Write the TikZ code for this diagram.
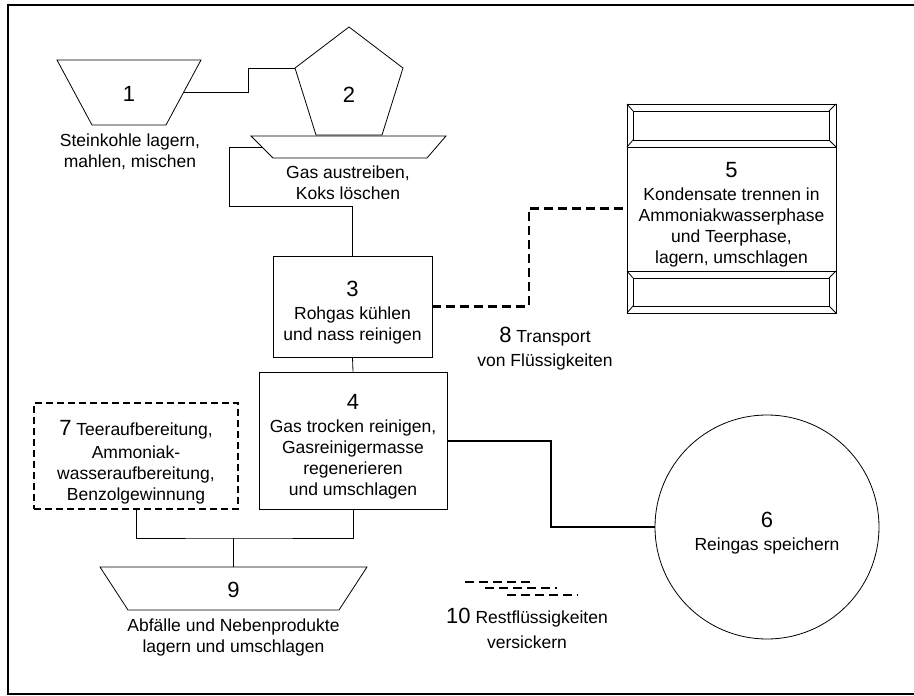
\documentclass[tikz,border=0pt]{standalone}
\usepackage{fontspec}
\setmainfont{Liberation Sans}
\usepackage{tikz}

\newcommand{\nr}[1]{{\fontsize{22}{24}\selectfont #1}}
\newcommand{\topnr}[1]{\rule{0pt}{27pt}\nr{#1}}

\begin{document}
\begin{tikzpicture}[x=1pt, y=-1pt,
    every node/.style={font=\fontsize{17.5}{21}\selectfont, align=center, inner sep=0pt},
    procbox/.style={draw, rectangle, line width=0.8pt},
    vessel/.style={draw, line width=0.8pt},
    pipe/.style={line width=0.8pt},
    gasline/.style={line width=2pt},
    liquid/.style={line width=2.6pt, dash pattern=on 9pt off 5pt}]
                \useasboundingbox (0,0) rectangle (914,696);
                % Frame
                \draw[line width=2.4pt] (930,5) -- (8,5) -- (8,694) -- (930,694);

                % Coal store
                \draw[vessel] (57,60) -- (201,60) -- (166,125) -- (92,125) -- cycle;
                \coordinate (t1r) at (183.5,92.5);
                \node (n1) at (129,94) {\nr{1}};
                \node (t1) at (130,152) {Steinkohle lagern,\\mahlen, mischen};

                % Coke oven and quenching
                \draw[vessel] (349,27) -- (403,68) -- (382,135) -- (316,135) -- (295,68) -- cycle;
                \draw[vessel] (251,136) -- (446,136) -- (427,158) -- (273,158) -- cycle;
                \coordinate (p2l) at (295,68);
                \coordinate (p2s) at (262,147);
                \node (n2) at (349,95) {\nr{2}};
                \node (t2) at (348,183) {Gas austreiben,\\Koks löschen};

                % Gas treatment
                \node[procbox, minimum width=159pt, minimum height=101pt] (b3) at (352.5,306.5)
                    {\topnr{3}\\[2pt]Rohgas kühlen\\und nass reinigen};
                \node[procbox, minimum width=188pt, minimum height=137pt] (b4) at (353,440.5)
                    {\topnr{4}\\[2pt]Gas trocken reinigen,\\Gasreinigermasse\\regenerieren\\und umschlagen};
                \node[procbox, line width=2.2pt, dash pattern=on 7pt off 4pt,
                      minimum width=204pt, minimum height=106pt] (b7) at (136,456)
                    {\topnr{7} Teeraufbereitung,\\[2pt]Ammoniak-\\wasseraufbereitung,\\Benzolgewinnung};

                % Condensate tank
                \node[procbox, minimum width=209pt, minimum height=209pt] (b5) at (731.5,208.5)
                    {\topnr{5}\\[2pt]Kondensate trennen in\\Ammoniakwasserphase\\und Teerphase,\\lagern, umschlagen};
                \draw[vessel] (627,147) -- (836,147) (627,271) -- (836,271);
                \draw[vessel] (633,111) rectangle (829,140) (633,278) rectangle (829,306);
                \draw[vessel] (627,104) -- (633,111) (836,104) -- (829,111)
                              (627,147) -- (633,140) (836,147) -- (829,140);
                \draw[vessel] (627,271) -- (633,278) (836,271) -- (829,278)
                              (627,313) -- (633,306) (836,313) -- (829,306);

                % Gas holder
                \node[draw, circle, line width=0.8pt, minimum size=224pt] (c6) at (767,527)
                    {\topnr{6}\\[2pt]Reingas speichern};

                % Waste store
                \draw[vessel] (100,567) -- (367,567) -- (339,610) -- (128,610) -- cycle;
                \coordinate (t9t) at (233.5,567);
                \node (n9) at (233.5,590) {\nr{9}};
                \node (t9) at (233.5,637) {Abfälle und Nebenprodukte\\lagern und umschlagen};

                % Connections
                \coordinate (k12) at (248,68);
                \coordinate (k23) at (229,206);
                \coordinate (k35) at (529,208.5);
                \coordinate (k46) at (551,440.5);
                \coordinate (k9) at (233.5,538);
                \draw[pipe] (t1r) -| (k12) -- (p2l);
                \draw[pipe] (p2s) -| (k23) -| (b3.north);
                \draw[pipe] (b3.south) -- (b4.north);
                \draw[pipe] (b7.south) |- (k9) -| (b4.south);
                \draw[pipe] (k9) -- (t9t);
                \draw[liquid] (b3.east) -| (k35) -- (b5.west);
                \draw[gasline] (b4.east) -- (k46) |- (c6.west);

                % Liquid transport and seepage
                \node (l8) at (545,349) {\nr{8} Transport\\[3pt]von Flüssigkeiten};
                \draw[liquid, line width=2.2pt] (465,582) -- (532,582);
                \draw[liquid, line width=2.2pt] (485,588) -- (557,588);
                \draw[liquid, line width=2.2pt] (507,595) -- (578,595);
                \node (l10) at (527,628) {\nr{10} Restflüssigkeiten\\[4pt]versickern};
            \end{tikzpicture}
\end{document}
